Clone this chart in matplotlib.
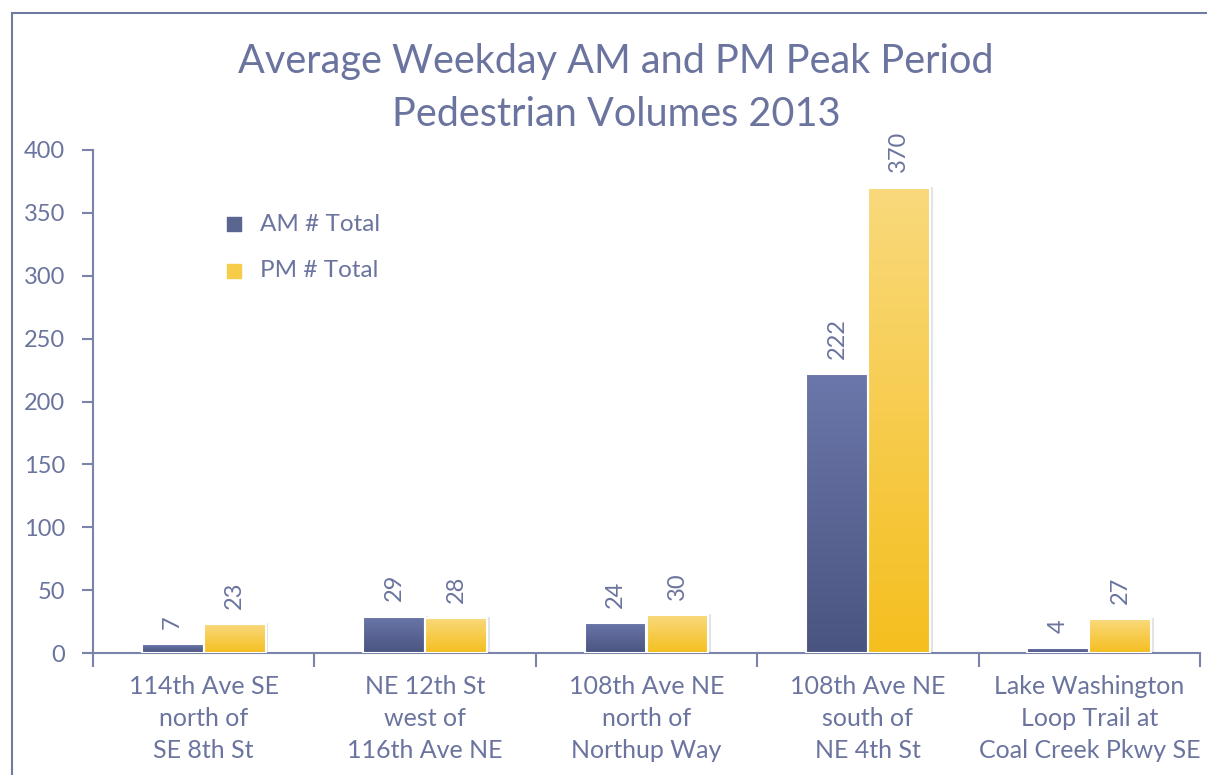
import numpy as np
import matplotlib
matplotlib.use("Agg")
import matplotlib.pyplot as plt
from matplotlib.colors import LinearSegmentedColormap
from matplotlib.patches import Rectangle

categories = [
    "114th Ave SE\nnorth of\nSE 8th St",
    "NE 12th St\nwest of\n116th Ave NE",
    "108th Ave NE\nnorth of\nNorthup Way",
    "108th Ave NE\nsouth of\nNE 4th St",
    "Lake Washington\nLoop Trail at\nCoal Creek Pkwy SE",
]
am_total = [7, 29, 24, 222, 4]
pm_total = [23, 28, 30, 370, 27]
yticks = [0, 50, 100, 150, 200, 250, 300, 350, 400]

TXT = "#6b749e"
AXC = "#7a84aa"
plt.rcParams["font.family"] = ["Lato", "DejaVu Sans"]

am_cmap = LinearSegmentedColormap.from_list("am", ["#4a5480", "#6b77aa"])
pm_cmap = LinearSegmentedColormap.from_list("pm", ["#f5bf1f", "#f9d97c"])

fig = plt.figure(figsize=(12.07, 7.75), dpi=100)
W, H = 1207, 775
ax = fig.add_axes([93 / W, 1 - 653 / H, (1200 - 93) / W, (653 - 150) / H])

# outer frame of the chart area
fig.patches.append(Rectangle((12 / W, -0.1), 1.2, 1 - 13 / H + 0.1, transform=fig.transFigure,
                             fill=False, edgecolor="#6e7aa0", linewidth=1.5))

x = np.arange(len(categories))
bw = 0.28
grad = np.linspace(0, 1, 256).reshape(-1, 1)


def draw_bar(xc, h, cmap):
    x0, x1 = xc - bw / 2, xc + bw / 2
    # soft shadow
    ax.add_patch(Rectangle((x0 + 0.012, 0), bw, h + 0.8, facecolor="#e2e3e8",
                           edgecolor="none", zorder=1))
    ax.imshow(grad, cmap=cmap, origin="lower", extent=[x0, x1, 0, h],
              aspect="auto", zorder=2)
    ax.add_patch(Rectangle((x0, 0), bw, h, fill=False, edgecolor="white",
                           linewidth=1.5, zorder=3))
    ax.annotate(str(h), (xc, h), xytext=(0, 11), textcoords="offset points",
                rotation=90, ha="center", va="bottom", color=TXT, fontsize=17)


for i in range(len(categories)):
    draw_bar(x[i] - bw / 2, am_total[i], am_cmap)
    draw_bar(x[i] + bw / 2, pm_total[i], pm_cmap)

ax.set_xlim(-0.5, len(categories) - 0.5)
ax.set_ylim(0, 400)
ax.set_yticks(yticks)
ax.set_xticks(x)
ax.set_xticklabels(categories, fontsize=18, color=TXT, linespacing=1.47)
ax.set_xticks(np.arange(-0.5, len(categories)), minor=True)
ax.tick_params(axis="x", which="major", length=0, pad=16)
ax.tick_params(axis="x", which="minor", length=10, width=1.5, color=AXC, direction="out")
ax.tick_params(axis="y", length=8, width=1.5, color=AXC, labelsize=17, labelcolor=TXT, pad=12)

for s in ["top", "right"]:
    ax.spines[s].set_visible(False)
for s in ["left", "bottom"]:
    ax.spines[s].set_color(AXC)
    ax.spines[s].set_linewidth(1.5)

# legend
ax.scatter([], [], marker="s", s=90, color="#5a6590", label="AM # Total")
ax.scatter([], [], marker="s", s=90, color="#f7cc48", label="PM # Total")
leg = ax.legend(loc="upper left", bbox_to_anchor=(0.097, 0.893), frameon=False,
                fontsize=17.5, labelcolor=TXT, handletextpad=0.05, labelspacing=1.05,
                borderaxespad=0)

fig.text(616 / W, 1 - 88 / H, "Average Weekday AM and PM Peak Period\nPedestrian Volumes 2013",
         ha="center", va="center", fontsize=28.5, color=TXT, linespacing=1.5)

fig.savefig("out.png", dpi=100)
